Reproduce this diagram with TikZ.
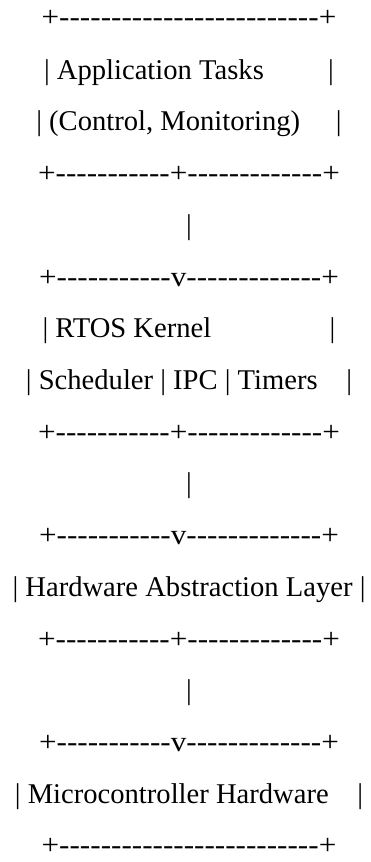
\documentclass[tikz,border=0pt]{standalone}
\usepackage{fontspec}
\setmainfont{Liberation Serif}
\newfontfamily\rulefont[FakeStretch=1.09]{Liberation Serif}
\usepackage{tikz}

% n blanks of the current font
\newcommand\blanks[1]{\hspace*{#1\fontdimen2\font}}

\begin{document}
\begin{tikzpicture}[
  x=1pt, y=-1pt,
  every node/.style={anchor=base, inner sep=0pt, font=\fontsize{28.6}{30}\selectfont},
  rule/.style={font=\fontsize{28.6}{30}\selectfont\rulefont}
]
\useasboundingbox (0,0) rectangle (370,862);

% application layer
\node[rule] (apptop) at (189,27) {+-------------------------+};
\node (appname) at (189,79) {| Application Tasks\blanks{9}|};
\node (appsub) at (189,130) {| (Control, Monitoring)\blanks{5}|};
\node[rule] (appbot) at (189,182) {+-----------+-------------+};
\node (link1) at (189,234) {|};

% kernel
\node[rule] (krntop) at (189,286) {+-----------v-------------+};
\node (krnname) at (189,337) {| RTOS Kernel\blanks{16}\hspace{4pt}|};
\node (krnsub) at (189,389) {| Scheduler | IPC | Timers\blanks{4}|};
\node[rule] (krnbot) at (189,441) {+-----------+-------------+};
\node (link2) at (189,492) {|};

% HAL
\node[rule] (haltop) at (189,544) {+-----------v-------------+};
\node (halname) at (189,596) {| Hardware Abstraction Layer |};
\node[rule] (halbot) at (189,648) {+-----------+-------------+};
\node (link3) at (189,699) {|};

% hardware
\node[rule] (hwtop) at (189,751) {+-----------v-------------+};
\node (hwname) at (189,803) {| Microcontroller Hardware\blanks{4}|};
\node[rule] (hwbot) at (189,854) {+-------------------------+};
\end{tikzpicture}
\end{document}
